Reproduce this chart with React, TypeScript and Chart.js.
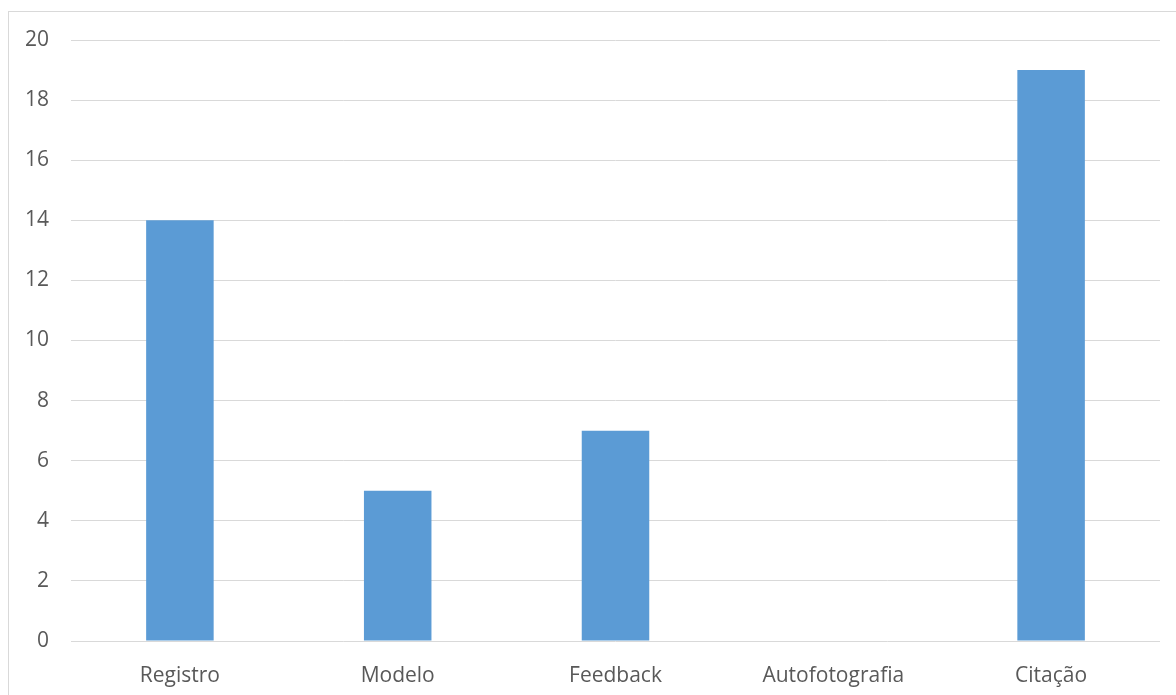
import React, { useEffect, useRef } from "react";
import { Chart, registerables } from "chart.js";

Chart.register(...registerables);

const categories: string[] = ["Registro", "Modelo", "Feedback", "Autofotografia", "Citação"];
const counts: number[] = [14, 5, 7, 0, 19];
const yTicks: number[] = [0, 2, 4, 6, 8, 10, 12, 14, 16, 18, 20];

const BAR_COLOR = "#5B9BD5";
const GRID_COLOR = "#D9D9D9";
const TEXT_COLOR = "#595959";
const FONT_FAMILY = "'Open Sans', 'Noto Sans', sans-serif";

export default function App() {
  const canvasRef = useRef<HTMLCanvasElement | null>(null);

  useEffect(() => {
    const canvas = canvasRef.current;
    if (!canvas) return;
    const chart = new Chart(canvas, {
      type: "bar",
      data: {
        labels: categories,
        datasets: [
          {
            data: counts,
            backgroundColor: BAR_COLOR,
            borderWidth: 0,
            barPercentage: 0.31,
            categoryPercentage: 1,
          },
        ],
      },
      options: {
        animation: false,
        responsive: false,
        maintainAspectRatio: false,
        layout: { padding: { left: 0, top: 40, right: 16, bottom: 0 } },
        plugins: {
          legend: { display: false },
          tooltip: { enabled: false },
          title: { display: false },
        },
        scales: {
          x: {
            grid: { display: false, drawTicks: false },
            border: { display: false },
            ticks: {
              color: TEXT_COLOR,
              font: { family: FONT_FAMILY, size: 21 },
              padding: 22,
              maxRotation: 0,
              autoSkip: false,
            },
            afterFit: (scale: any) => {
              scale.height = 54;
            },
          },
          y: {
            min: yTicks[0],
            max: yTicks[yTicks.length - 1],
            afterBuildTicks: (scale: any) => {
              scale.ticks = yTicks.map((v) => ({ value: v }));
            },
            grid: { color: GRID_COLOR, lineWidth: 1, drawTicks: false },
            border: { display: false },
            ticks: {
              color: TEXT_COLOR,
              font: { family: FONT_FAMILY, size: 21 },
              padding: 22,
            },
            afterFit: (scale: any) => {
              scale.width = 71;
            },
          },
        },
      },
    });
    return () => chart.destroy();
  }, []);

  return (
    <>
      <div
        style={{
          position: "fixed",
          left: 8,
          top: 11,
          right: 0,
          bottom: 0,
          borderLeft: `1px solid ${GRID_COLOR}`,
          borderTop: `1px solid ${GRID_COLOR}`,
          background: "#fff",
        }}
      />
      <canvas
        ref={canvasRef}
        width={1176}
        height={695}
        style={{ position: "fixed", left: 0, top: 0, width: 1176, height: 695 }}
      />
    </>
  );
}
